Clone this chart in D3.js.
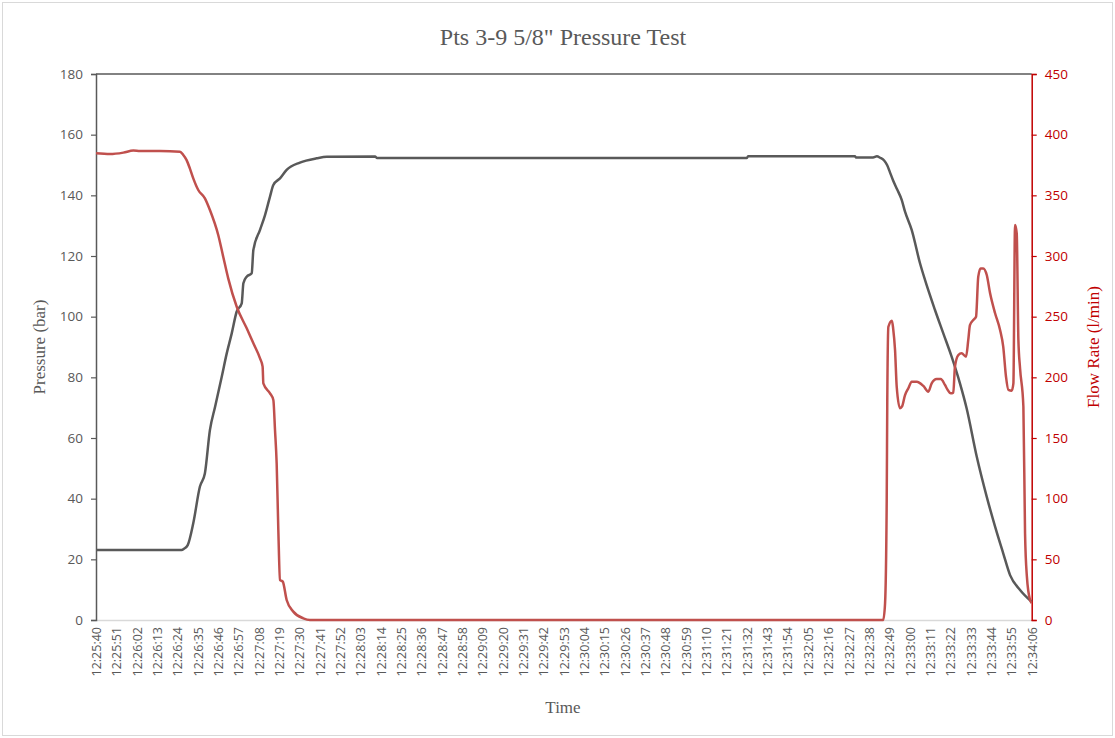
<!DOCTYPE html>
<html><head><meta charset="utf-8">
<script src="https://cdn.jsdelivr.net/npm/d3@7"></script>
<style>body{margin:0;background:#fff}svg{display:block}</style>
</head><body><svg id="c" width="1115" height="738"></svg>
<script>
const timeLabels = ["12:25:40","12:25:51","12:26:02","12:26:13","12:26:24","12:26:35","12:26:46","12:26:57","12:27:08","12:27:19","12:27:30","12:27:41","12:27:52","12:28:03","12:28:14","12:28:25","12:28:36","12:28:47","12:28:58","12:29:09","12:29:20","12:29:31","12:29:42","12:29:53","12:30:04","12:30:15","12:30:26","12:30:37","12:30:48","12:30:59","12:31:10","12:31:21","12:31:32","12:31:43","12:31:54","12:32:05","12:32:16","12:32:27","12:32:38","12:32:49","12:33:00","12:33:11","12:33:22","12:33:33","12:33:44","12:33:55","12:34:06"];
const labelStepSec = 11;
const totalSec = 506;
const pressureTicks = [0,20,40,60,80,100,120,140,160,180];
const flowTicks = [0,50,100,150,200,250,300,350,400,450];

// seconds since 12:25:40
const pressureTime = [0,46.3,47.6,49.6,52.6,56.2,58.9,61.6,64.4,68.0,70.7,73.4,76.1,78.8,79.7,81.5,84.2,85.1,88.7,91.4,94.1,95.9,99.5,103.1,110.3,119.3,124.8,150.9,152,352,352.6,410.4,411,420.2,422.3,424,426.2,427.8,429.4,431,433.2,435.7,437.5,441.1,445.6,448.3,453.7,458.2,462.7,467.2,470.8,476.3,481.7,486.2,490.6,494.3,499.7,506];
const pressureValue = [23.1,23.1,23.5,24.7,31.9,44,48.4,62.6,70.3,80.2,87.9,94.5,101.7,104.4,111,113.2,114.3,122,128.6,133.5,139.6,143.4,145.6,148.4,150.8,152.2,152.7,152.8,152.3,152.3,152.9,152.9,152.5,152.5,152.9,152.4,151.5,150,147.5,145,142,138.5,134.6,128.6,117.6,112.1,102.2,94.5,86.8,78,69.8,53.8,40.6,30.8,22,14.8,9.9,6];

const flowTime = [0,7.6,14.8,20.2,23.8,34.6,45.4,47.2,49.0,50.8,52.6,55.3,58.9,61.6,66.1,68.8,71.5,76.1,81.5,85.1,88.7,90.1,90.5,94.1,95.9,96.8,97.7,98.6,99.5,101.0,103.1,106.7,112.1,115.7,425.7,426.7,427.6,427.9,428.5,430.4,431.1,432.1,433.0,434.8,435.9,437.5,439.3,441.1,443.8,447.4,450.1,451.9,454.6,456.8,459.1,460.4,462.2,463.6,464.5,466.3,468.1,470.5,471.7,472.6,474.4,475.9,477.1,478.4,479.8,481.7,483.5,486.2,488.9,490.6,492.1,493.4,495.2,496.1,497.0,497.9,498.8,499.7,501.5,502.4,503.4,505.1,506];
const flowValue = [384.6,384,385.2,386.9,386.5,386.5,386,383.2,379,372,364,354.4,347.5,337.9,317.3,299.4,281.6,258.2,240.4,228,215.6,208.8,195,186.8,181.3,156.6,129,74,33,31.6,16.5,6.9,1.4,0,0,13.7,98.9,181,241.7,246.7,240,222.5,192.3,174.5,176,185.4,191,196.4,196.4,192.9,188.2,195,198.6,198.6,193.7,190.1,186.8,187.4,208.8,218.4,219.8,217,230.8,243.1,247.3,250,283,289.8,289.8,284.3,269.3,252.8,239,225.3,200.5,189.6,189,195,325.5,318.7,230.8,207.5,176,71.4,35.7,16.5,14];

const svg = d3.select("#c");
const L = 96, R = 1031.7, T = 74, B = 620;
const grey = "#595959", red = "#C0504D", axisRed = "#C00000";

svg.append("rect").attr("x",2.5).attr("y",2.5).attr("width",1110).attr("height",733)
  .attr("fill","#fff").attr("stroke","#d9d9d9").attr("stroke-width",1);

const x = d3.scaleLinear().domain([0,totalSec]).range([L,R]);
const yP = d3.scaleLinear().domain([0,180]).range([B,T]);
const yF = d3.scaleLinear().domain([0,450]).range([B,T]);

svg.append("line").attr("x1",L).attr("x2",R).attr("y1",T).attr("y2",T)
  .attr("stroke",grey).attr("stroke-width",1.5);

const xTicks = timeLabels.map((d,i)=>i*labelStepSec);
const gx = svg.append("g").attr("transform",`translate(0,${B})`)
  .call(d3.axisBottom(x).tickValues(xTicks).tickSize(0).tickFormat((d,i)=>timeLabels[i]));
gx.select(".domain").attr("stroke","#d9d9d9").attr("stroke-width",1.5);
gx.selectAll("text").attr("transform","rotate(-90)").attr("text-anchor","end")
  .attr("x",-7).attr("y",0).attr("dy","0.35em")
  .style("font-family","'Open Sans', 'Noto Sans', sans-serif").style("font-size","12.5px").attr("fill",grey);

const gl = svg.append("g").attr("transform",`translate(${L},0)`)
  .call(d3.axisLeft(yP).tickValues(pressureTicks).tickSize(5).tickPadding(8));
gl.select(".domain").attr("stroke",grey).attr("stroke-width",1.5);
gl.selectAll(".tick line").attr("stroke",grey).attr("stroke-width",1.2);
gl.selectAll("text").style("font-family","'Open Sans', 'Noto Sans', sans-serif").style("font-size","13.5px").attr("fill",grey);

const gr = svg.append("g").attr("transform",`translate(${R},0)`)
  .call(d3.axisRight(yF).tickValues(flowTicks).tickSize(5).tickPadding(8));
gr.select(".domain").attr("stroke",axisRed).attr("stroke-width",1.5);
gr.selectAll(".tick line").attr("stroke",axisRed).attr("stroke-width",1.2);
gr.selectAll("text").style("font-family","'Open Sans', 'Noto Sans', sans-serif").style("font-size","13.5px").attr("fill",axisRed);

const lineP = d3.line().x((d,i)=>x(pressureTime[i])).y(d=>yP(d)).curve(d3.curveMonotoneX);
const lineF = d3.line().x((d,i)=>x(flowTime[i])).y(d=>yF(d)).curve(d3.curveMonotoneX);
svg.append("path").attr("d",lineP(pressureValue)).attr("fill","none").attr("stroke",grey).attr("stroke-width",2.5).attr("stroke-linejoin","round");
svg.append("path").attr("d",lineF(flowValue)).attr("fill","none").attr("stroke",red).attr("stroke-width",2.5).attr("stroke-linejoin","round");

const serif = "'Liberation Serif', 'DejaVu Serif', serif";
svg.append("text").attr("x",563).attr("y",45).attr("text-anchor","middle")
  .style("font-family",serif).style("font-size","24px").attr("fill",grey)
  .text("Pts 3-9 5/8\" Pressure Test");
svg.append("text").attr("transform","translate(45,347) rotate(-90)").attr("text-anchor","middle")
  .style("font-family",serif).style("font-size","17px").attr("fill",grey).text("Pressure (bar)");
svg.append("text").attr("transform","translate(1099,347) rotate(-90)").attr("text-anchor","middle")
  .style("font-family",serif).style("font-size","17px").attr("fill",axisRed).text("Flow Rate (l/min)");
svg.append("text").attr("x",563).attr("y",713).attr("text-anchor","middle")
  .style("font-family",serif).style("font-size","17px").attr("fill",grey).text("Time");
</script></body></html>
